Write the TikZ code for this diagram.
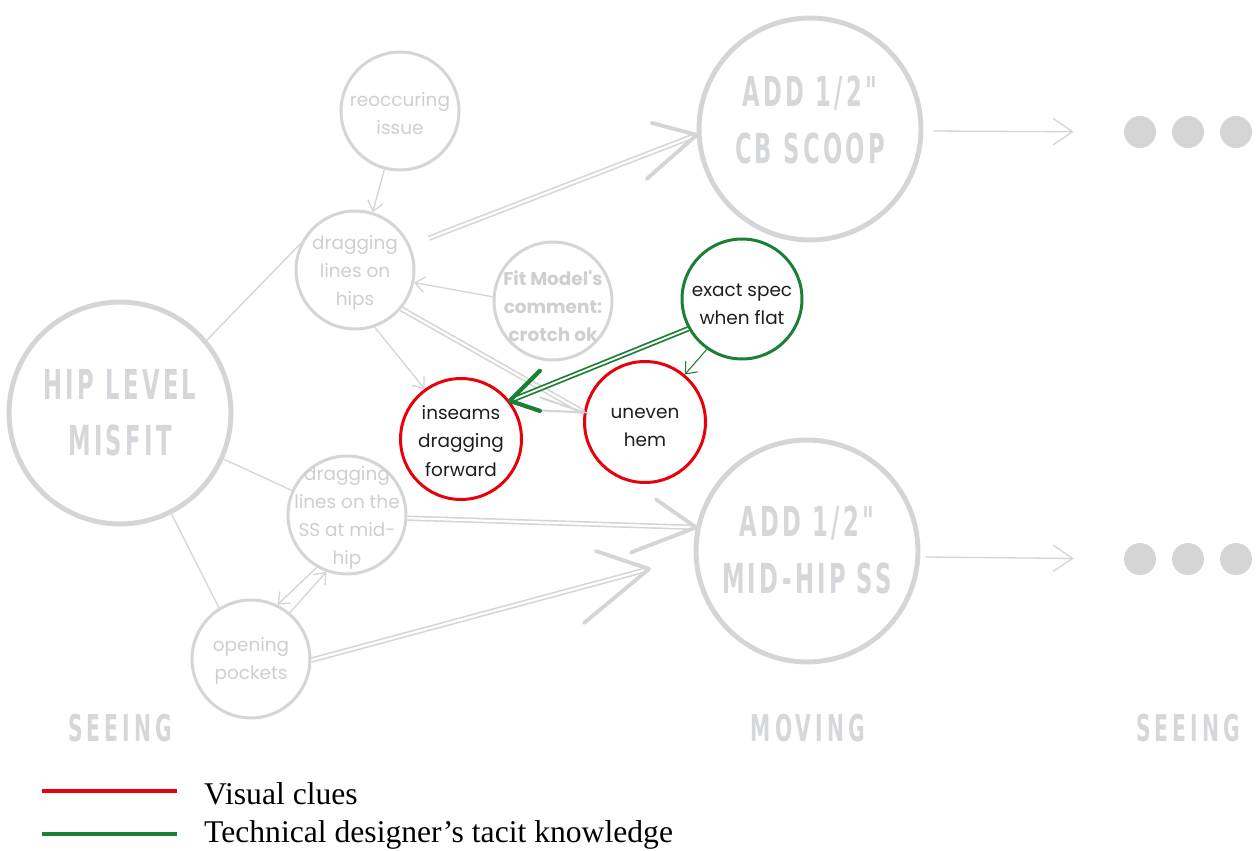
\documentclass[tikz,border=0pt]{standalone}
\usepackage{fontspec}
\setmainfont{Liberation Serif}
\newfontfamily\popfont{Poppins}
\newfontfamily\capfont{DejaVu Sans}[FakeStretch=0.55,LetterSpace=8]
\newfontfamily\stagefont{DejaVu Sans}[FakeStretch=0.55,LetterSpace=11]
\usetikzlibrary{calc,arrows.meta}

\definecolor{sketch}{HTML}{D5D5D5}
\definecolor{fadetext}{HTML}{CFCFCF}
\definecolor{bigtext}{HTML}{D5D7DA}
\definecolor{clue}{HTML}{E8000B}
\definecolor{tacit}{HTML}{1D7E36}
\definecolor{ink}{HTML}{1E1E1E}

\begin{document}
\begin{tikzpicture}[x=0.02cm,y=-0.02cm,
  small/.style={circle,draw=sketch,line width=1.7pt,minimum size=2.36cm,inner sep=0pt},
  big/.style={circle,draw=sketch,line width=2.8pt,minimum size=4.44cm,inner sep=0pt},
  cluecirc/.style={circle,draw=clue,line width=1.7pt,minimum size=2.42cm,inner sep=0pt},
  tacitcirc/.style={circle,draw=tacit,line width=1.7pt,minimum size=2.4cm,inner sep=0pt},
  ctext/.style={align=center,text=fadetext,font={\popfont\fontsize{10.5}{16}\selectfont}},
  cbold/.style={ctext,font={\popfont\bfseries\fontsize{10.5}{16}\selectfont}},
  dtext/.style={ctext,text=ink},
  captext/.style={align=center,text=bigtext,font={\capfont\bfseries\fontsize{23.5}{32}\selectfont}},
  stagetext/.style={text=bigtext,font={\stagefont\bfseries\fontsize{21}{24}\selectfont}},
  thinline/.style={draw=sketch,line width=0.75pt},
  barb/.style={-{Straight Barb[length=5.5pt,width=9pt]}},
  longbarb/.style={-{Straight Barb[length=11pt,width=15pt]}},
  dbl/.style={draw=sketch,line width=0.9pt,double=white,double distance=1.3pt},
  sketchhead/.style={draw=sketch,line width=2.2pt,line cap=round,line join=round},
  gdbl/.style={draw=tacit,line width=1pt,double=white,double distance=1.1pt},
  ghead/.style={draw=tacit,line width=2.4pt,line cap=round,line join=round},
  dot/.style={circle,fill=sketch,draw=none,minimum size=0.64cm,inner sep=0pt},
  legendtext/.style={anchor=base west,font={\fontsize{18}{20}\selectfont}}
]
\path[fill=white,use as bounding box] (0,0) rectangle (1257,851);

% ---- circles ----
\node[big] (hip) at (120,413) {};
\node[captext] (hipT) at (120,413) {HIP LEVEL\\MISFIT};

\node[small] (reo) at (400,111) {};
\node[ctext] (reoT) at (400,114) {reoccuring\\issue};

\node[small] (hips) at (355,270) {};
\node[ctext] (hipsT) at (355,273) {dragging\\lines on\\hips};

\node[small] (fit) at (553,301) {};
\node[cbold] (fitT) at (553,306) {Fit Model's\\comment:\\crotch ok};

\node[small] (ss) at (347,515) {};
\node[ctext] (ssT) at (347,518) {dragging\\lines on the\\SS at mid-\\hip};

\node[small] (pk) at (251,659) {};
\node[ctext] (pkT) at (251,661) {opening\\pockets};

\node[tacitcirc] (exact) at (742,299) {};
\node[dtext] (exactT) at (742,304) {exact spec\\when flat};

\node[cluecirc] (ins) at (461,439) {};
\node[dtext] (insT) at (461,441) {inseams\\dragging\\forward};

\node[cluecirc] (hem) at (645,422) {};
\node[dtext] (hemT) at (645,427) {uneven\\hem};

\node[big] (cb) at (810,129) {};
\node[captext] (cbT) at (810,120) {ADD 1/2"\\CB SCOOP};

\node[big] (mh) at (807,551) {};
\node[captext] (mhT) at (807,550) {ADD 1/2"\\MID-HIP SS};

% ---- continuation dots ----
\node[dot] (d1) at (1140,132) {};
\node[dot] (d2) at (1188,132) {};
\node[dot] (d3) at (1236,132) {};
\node[dot] (e1) at (1140,559) {};
\node[dot] (e2) at (1188,559) {};
\node[dot] (e3) at (1236,559) {};

% ---- stage labels ----
\node[stagetext] (st1) at (120,728) {SEEING};
\node[stagetext] (st2) at (808,728) {MOVING};
\node[stagetext] (st3) at (1188,728) {SEEING};

% ---- plain links from the misfit ----
\draw[thinline] (hip.40) -- (hips.154);
\draw[thinline] (hip.-24) -- (ss.156);
\draw[thinline] (hip.-63) -- (pk.122);

% ---- thin arrows ----
\draw[thinline,barb] (reo.-105) -- (hips.73);
\draw[thinline,barb] (fit.176) -- (hips.-12);
\draw[thinline,barb] (hips.-71) -- (ins.126);
\draw[thinline,barb] (ss.-120) -- (pk.64);
\draw[thinline,barb] (pk.50) -- (ss.-110);

% ---- sketched double arrows ----
\draw[dbl,shorten <=0.4cm] (hips.24) -- (cb.183);
\draw[sketchhead] (cb.183) ++(-45,-12) -- (cb.183) -- ++(-50,44);

\draw[dbl] (ss.-3) -- (mh.168);
\draw[sketchhead] (mh.168) ++(-40,-28) -- (mh.168) -- ++(-65,25);

\coordinate (pktip) at ($(pk.-1)!0.883!(mh.183)$);
\draw[dbl] (pk.-1) -- (pktip);
\draw[sketchhead] (pktip) ++(-53,-18) -- (pktip) -- ++(-65,54);

\draw[dbl] (hips.-40) -- (hem.171);
\draw[thinline,line width=1.2pt] (hem.171) ++(-44,-15) -- (hem.171) -- ++(-48,-2);

% ---- tacit knowledge arrows ----
\draw[gdbl] (exact.-151) -- (ins.38);
\draw[ghead] (ins.38) ++(30,-30) -- (ins.38) -- ++(30,10);
\draw[draw=tacit,line width=0.6pt,barb] (exact.-125) -- (hem.50);

% ---- onward arrows ----
\draw[thinline,longbarb,shorten <=0.2cm,shorten >=1.0cm] (cb.-1) -- (d1.west);
\draw[thinline,longbarb,shorten <=0.1cm,shorten >=1.0cm] (mh.-3) -- (e1.west);

% ---- legend ----
\coordinate (lr1) at (42,791);
\coordinate (lr2) at (177,791);
\coordinate (lg1) at (42,834);
\coordinate (lg2) at (177,834);
\draw[clue,line width=2.3pt] (lr1) -- (lr2);
\draw[tacit,line width=2.3pt] (lg1) -- (lg2);
\node[legendtext] (legR) at (198,804) {Visual clues};
\node[legendtext] (legG) at (198,842) {Technical designer’s tacit knowledge};
\end{tikzpicture}
\end{document}
